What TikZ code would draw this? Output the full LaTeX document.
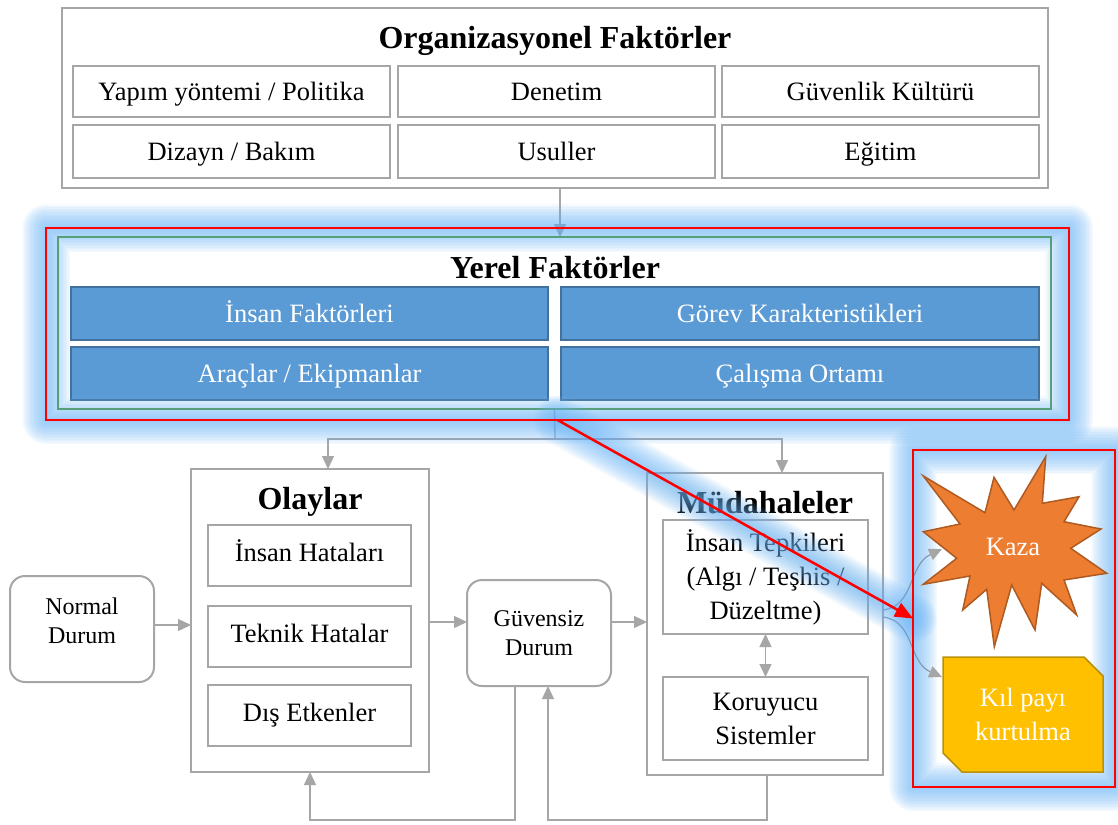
\documentclass[tikz,border=0pt]{standalone}
\usepackage{fontspec}
\setmainfont{Liberation Serif}
\usetikzlibrary{arrows.meta,calc}
\definecolor{lgray}{HTML}{A6A6A6}
\definecolor{bfill}{HTML}{5B9BD5}
\definecolor{bborder}{HTML}{41719C}
\definecolor{orng}{HTML}{ED7D31}
\definecolor{orngb}{HTML}{AE5A21}
\definecolor{gold}{HTML}{FFC000}
\definecolor{goldb}{HTML}{B8900A}
\definecolor{greenb}{HTML}{55A078}
\definecolor{glowc}{HTML}{6CB4F5}
\definecolor{curvec}{HTML}{8497B0}
\definecolor{redc}{HTML}{FF0000}
\newcommand\fsA{\fontsize{26.5}{34}\selectfont}
\newcommand\fsB{\fontsize{24}{29}\selectfont}
\newcommand\fsT{\bfseries\fontsize{32}{36}\selectfont}
\newcommand\mkbox[7]{%
 \pgfmathsetmacro\mkw{#4-#2}\pgfmathsetmacro\mkh{#5-#3}%
 \pgfmathsetmacro\mkx{(#2+#4)/2}\pgfmathsetmacro\mky{(#3+#5)/2}%
 \node[#6, minimum width=\mkw pt, minimum height=\mkh pt] (#1) at (\mkx,\mky) {#7};}
\newcommand\glowpath[1]{%
 \foreach \w in {48,45,...,3}{%
  \draw[glowc, line width=\w pt, opacity=0.065, line join=round, line cap=round] #1;}}
\tikzset{
 emptybox/.style={inner sep=0pt, outer sep=0pt, align=center},
 gbox/.style={emptybox, draw=lgray, line width=2pt, fill=white, font=\fsA},
 rbox/.style={gbox, rounded corners=15pt},
 bcell/.style={emptybox, draw=bborder, fill=bfill, line width=2pt, text=white, font=\fsA},
 sl/.style={text height=24pt, text depth=6pt},
 slb/.style={text height=22pt, text depth=10pt},
 ttl/.style={font=\fsT, inner sep=0pt},
 ln/.style={draw=lgray, line width=1.3pt},
 conn/.style={ln, -{Triangle[length=13pt,width=12pt]}},
 dconn/.style={ln, {Triangle[length=13pt,width=12pt]}-{Triangle[length=13pt,width=12pt]}},
 curv/.style={draw=curvec, line width=1.2pt, -{Triangle[length=13pt,width=12pt,color=lgray]}},
 redln/.style={draw=redc, line width=2.5pt},
 redarr/.style={redln, -{Triangle[length=18pt,width=15pt]}}
}
\begin{document}
\begin{tikzpicture}[x=1pt,y=-1pt]
\useasboundingbox (0,0) rectangle (1118,824);
% Organizational factors
\mkbox{org}{62}{8}{1048}{188}{gbox}{}
\node[ttl] (orgT) at (555,41) {Organizasyonel Faktörler};
\mkbox{o11}{73}{66}{390}{117}{gbox,sl}{Yapım yöntemi / Politika}
\mkbox{o12}{398}{66}{715}{117}{gbox,sl}{Denetim}
\mkbox{o13}{722}{66}{1039}{117}{gbox,sl}{Güvenlik Kültürü}
\mkbox{o21}{73}{125}{390}{178}{gbox,sl}{Dizayn / Bakım}
\mkbox{o22}{398}{125}{715}{178}{gbox,sl}{Usuller}
\mkbox{o23}{722}{125}{1039}{178}{gbox,sl}{Eğitim}
% Local factors
\mkbox{yred}{46}{228}{1069}{420}{emptybox}{}
\mkbox{ygr}{58}{237}{1051}{409}{emptybox}{}
\node[ttl] (yT) at (555,268) {Yerel Faktörler};
\mkbox{y11}{71}{287}{548}{340}{bcell,sl}{İnsan Faktörleri}
\mkbox{y12}{561}{287}{1039}{340}{bcell,sl}{Görev Karakteristikleri}
\mkbox{y21}{71}{347}{548}{400}{bcell,sl}{Araçlar / Ekipmanlar}
\mkbox{y22}{561}{347}{1039}{400}{bcell,sl}{Çalışma Ortamı}
% Events
\mkbox{ola}{191}{469}{429}{772}{gbox}{}
\node[ttl] (olaT) at (310,502) {Olaylar};
\mkbox{ih}{208}{525}{411}{586}{gbox,slb}{İnsan Hataları}
\mkbox{th}{208}{606}{411}{667}{gbox,slb}{Teknik Hatalar}
\mkbox{de}{208}{685}{411}{746}{gbox,slb}{Dış Etkenler}
\mkbox{nd}{10}{576}{154}{682}{rbox}{}
\node[font=\fsB, align=center, inner sep=0pt] (ndT) at (82,621) {Normal\\Durum};
\mkbox{gd}{467}{580}{611}{686}{rbox,font=\fsB}{Güvensiz\\Durum}
% Interventions
\mkbox{mud}{647}{473}{883}{775}{gbox}{}
\node[ttl] (mudT) at (765,503) {Müdahaleler};
\mkbox{tep}{663}{520}{868}{634}{gbox}{İnsan Tepkileri\\(Algı / Teşhis /\\Düzeltme)}
\mkbox{kor}{663}{677}{868}{760}{gbox}{Koruyucu\\Sistemler}
\mkbox{rred}{913}{450}{1115}{787}{emptybox}{}
% connectors
\draw[conn] ($(org.south)+(5,0)$) -- ($(ygr.north)+(5.5,0)$);
\coordinate (sp) at (555,439);
\draw[ln] (ygr.south) -- (sp);
\draw[conn] (sp) -| ($(ola.north)+(18,0)$);
\draw[conn] (sp) -| ($(mud.north)+(17,0)$);
\draw[conn] ($(nd.east)+(0,-4)$) -- ($(ola.west)+(0,4.5)$);
\coordinate (a1) at ($(ola.east)+(0,1.5)$);
\draw[conn] (a1) -- (gd.west |- a1);
\draw[conn] (gd.east |- a1) -- (mud.west |- a1);
\draw[dconn] (tep.south) -- (kor.north);
\draw[conn] ($(gd.south)+(-24,0)$) -- ++(0,134) -| (ola.south);
\draw[conn] ($(mud.south)+(2,0)$) -- ++(0,45) -| ($(gd.south)+(9,0)$);
% glows
\glowpath{(yred.north west) rectangle (yred.south east)}
\glowpath{(rred.north west) rectangle (rred.south east)}
\draw[greenb, line width=2pt] (ygr.north west) rectangle (ygr.south east);
% outcomes
\draw[fill=orng, draw=orngb, line width=1.5pt] (923.3,476) -- (985,512.7) -- (994,477.3) -- (1014,510) -- (1045.7,456.7) -- (1042.3,503.3) -- (1079,496.7) -- (1064,521.7) -- (1101,529) -- (1070.7,548.3) -- (1106.7,573.3) -- (1064,580) -- (1076.7,615) -- (1041.7,583.3) -- (1035,630) -- (1011.7,585) -- (994.3,646.7) -- (986.7,589.3) -- (962.7,610) -- (970,576) -- (923.3,584.3) -- (956.7,558.3) -- (923.3,531.7) -- (960,524) -- cycle;
\node[font=\fsA, text=white, inner sep=0pt] (kaza) at (1013,547) {Kaza};
\draw[fill=gold, draw=goldb, line width=1.5pt] (943,657) -- (1084,657) -- (1103,676) -- (1103,772) -- (962,772) -- (943,753) -- cycle;
\mkbox{kil}{943}{657}{1103}{772}{emptybox, text=white, font=\fsA}{Kıl payı\\kurtulma}
\coordinate (kzin) at (942,549);
\coordinate (kpin) at ($(kil.north west)+(-1,20)$);
\draw[curv] ($(mud.east)+(0,-14)$) .. controls (915,606) and (908,565) .. (kzin);
\draw[curv] ($(mud.east)+(0,-7)$) .. controls (915,621) and (908,662) .. (kpin);
% red arrow with glow
\glowpath{(yred.south) -- (rred.west)}
\draw[redarr] (yred.south) -- (rred.west);
\draw[redln] (yred.north west) rectangle (yred.south east);
\draw[redln] (rred.north west) rectangle (rred.south east);
\end{tikzpicture}
\end{document}
